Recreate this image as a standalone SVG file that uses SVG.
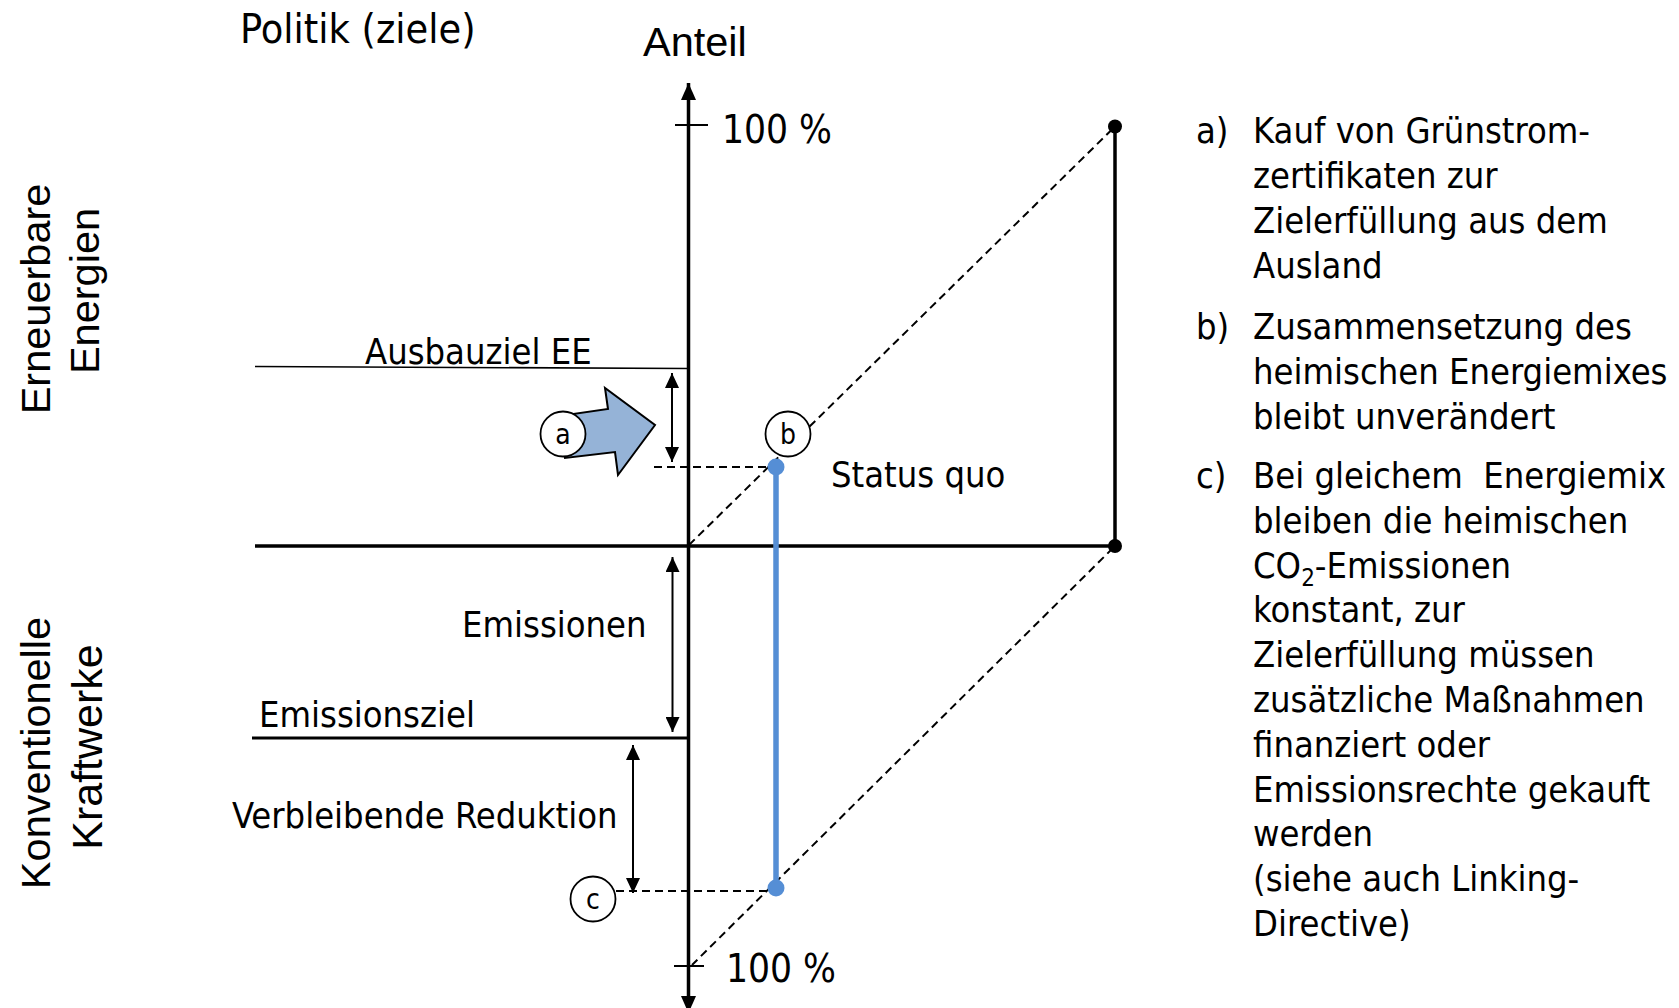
<svg xmlns="http://www.w3.org/2000/svg" width="1679" height="1008" viewBox="0 0 1679 1008">
<style>
.t{font-family:"DejaVu Sans Condensed","DejaVu Sans",sans-serif;font-stretch:semi-condensed;font-size:36px;fill:#000}
.v{font-family:"Liberation Sans",Arial,sans-serif;font-size:41.5px;fill:#000}
.ax{stroke:#000;stroke-width:3.5;fill:none}
.thin{stroke:#000;stroke-width:2;fill:none}
.dash{stroke:#000;stroke-width:2;stroke-dasharray:8 5;fill:none}
.circ{fill:#fff;stroke:#000;stroke-width:1.8}
.cl{font-family:"DejaVu Sans Condensed","DejaVu Sans",sans-serif;font-size:28px;text-anchor:middle;fill:#000}
</style>
<defs>
<marker id="ah" viewBox="0 0 15 14" refX="15" refY="7" markerWidth="15" markerHeight="14" markerUnits="userSpaceOnUse" orient="auto-start-reverse"><path d="M0,0 L15,7 L0,14 z" fill="#000"/></marker>
<marker id="axh" viewBox="0 0 17 15" refX="17" refY="7.5" markerWidth="17" markerHeight="15" markerUnits="userSpaceOnUse" orient="auto-start-reverse"><path d="M0,0 L17,7.5 L0,15 z" fill="#000"/></marker>
</defs>
<rect width="1679" height="1008" fill="#fff"/>

<g id="titles">
<text class="t" x="240" y="43" style="font-size:41px">Politik (ziele)</text>
<text class="v" x="643" y="56">Anteil</text>
<text class="v" text-anchor="middle" transform="translate(50,299) rotate(-90)">Erneuerbare</text>
<text class="v" text-anchor="middle" transform="translate(99,291) rotate(-90)">Energien</text>
<text class="v" text-anchor="middle" transform="translate(50,753) rotate(-90)">Konventionelle</text>
<text class="v" text-anchor="middle" transform="translate(102,747) rotate(-90)" style="font-size:43px">Kraftwerke</text>
</g>

<g id="connectors">
<line class="ax" x1="688.5" y1="1013" x2="688.5" y2="83" marker-end="url(#axh)" marker-start="url(#axh)"/>
<line class="ax" x1="255" y1="546" x2="1115" y2="546"/>
<line class="ax" x1="1115" y1="126.5" x2="1115" y2="546"/>
<line class="thin" x1="675" y1="125" x2="708" y2="125"/>
<line class="thin" x1="674" y1="966" x2="704" y2="966"/>
<line stroke="#000" stroke-width="1.6" x1="255" y1="366.5" x2="688" y2="368.5"/>
<line stroke="#000" stroke-width="3" x1="252" y1="738" x2="688" y2="738"/>
<line class="dash" x1="689" y1="545" x2="1113" y2="128.5"/>
<line class="dash" x1="1113" y1="548" x2="692" y2="965"/>
<line class="dash" x1="654" y1="467" x2="776" y2="467"/>
<line class="dash" x1="616" y1="891" x2="776" y2="891"/>
<line class="thin" x1="672" y1="373" x2="672" y2="462" marker-start="url(#ah)" marker-end="url(#ah)"/>
<line class="thin" x1="672.5" y1="557" x2="672.5" y2="732" marker-start="url(#ah)" marker-end="url(#ah)"/>
<line class="thin" x1="633" y1="745" x2="633" y2="893" marker-start="url(#ah)" marker-end="url(#ah)"/>
<line stroke="#558ED5" stroke-width="5.5" x1="776" y1="467" x2="776" y2="888"/>
</g>

<g id="points">
<circle cx="1115" cy="126.5" r="7" fill="#000"/>
<circle cx="1115" cy="546" r="7" fill="#000"/>
<circle cx="776" cy="467" r="8.5" fill="#558ED5"/>
<circle cx="776" cy="888" r="8.5" fill="#558ED5"/>
</g>

<g id="labels">
<text class="t" x="722" y="143" style="font-size:38.5px">100 %</text>
<text class="t" x="726" y="982" style="font-size:38.5px">100 %</text>
<text class="t" x="365" y="364">Ausbauziel EE</text>
<text class="t" x="831" y="487">Status quo</text>
<text class="t" x="462" y="637">Emissionen</text>
<text class="t" x="259" y="727">Emissionsziel</text>
<text class="t" x="232" y="828">Verbleibende Reduktion</text>
</g>

<g id="node-a">
<polygon points="565,458 559,416 608,409 605,388 655,425 618,475 615,452" fill="#95B3D7" stroke="#000" stroke-width="2" stroke-linejoin="miter"/>
<circle class="circ" cx="563" cy="434" r="22.5"/>
<text class="cl" x="563" y="444">a</text>
</g>
<g id="node-b">
<circle class="circ" cx="788" cy="434" r="22.5"/>
<text class="cl" x="788" y="444">b</text>
</g>
<g id="node-c">
<circle class="circ" cx="593" cy="899" r="22.5"/>
<text class="cl" x="593" y="909">c</text>
</g>

<g id="legend-a">
<text class="t" x="1196" y="143">a)</text>
<text class="t" x="1253" y="143">Kauf von Grünstrom-</text>
<text class="t" x="1253" y="188">zertifikaten zur</text>
<text class="t" x="1253" y="233">Zielerfüllung aus dem</text>
<text class="t" x="1253" y="278">Ausland</text>
</g>
<g id="legend-b">
<text class="t" x="1196" y="339">b)</text>
<text class="t" x="1253" y="339">Zusammensetzung des</text>
<text class="t" x="1253" y="384">heimischen Energiemixes</text>
<text class="t" x="1253" y="429">bleibt unverändert</text>
</g>
<g id="legend-c">
<text class="t" x="1196" y="488">c)</text>
<text class="t" x="1253" y="488">Bei gleichem&#160; Energiemix</text>
<text class="t" x="1253" y="533">bleiben die heimischen</text>
<text class="t" x="1253" y="578">CO<tspan font-size="24" dy="8">2</tspan><tspan dy="-8">-Emissionen</tspan></text>
<text class="t" x="1253" y="622">konstant, zur</text>
<text class="t" x="1253" y="667">Zielerfüllung müssen</text>
<text class="t" x="1253" y="712">zusätzliche Maßnahmen</text>
<text class="t" x="1253" y="757">finanziert oder</text>
<text class="t" x="1253" y="802">Emissionsrechte gekauft</text>
<text class="t" x="1253" y="846">werden</text>
<text class="t" x="1253" y="891">(siehe auch Linking-</text>
<text class="t" x="1253" y="936">Directive)</text>
</g>
</svg>
